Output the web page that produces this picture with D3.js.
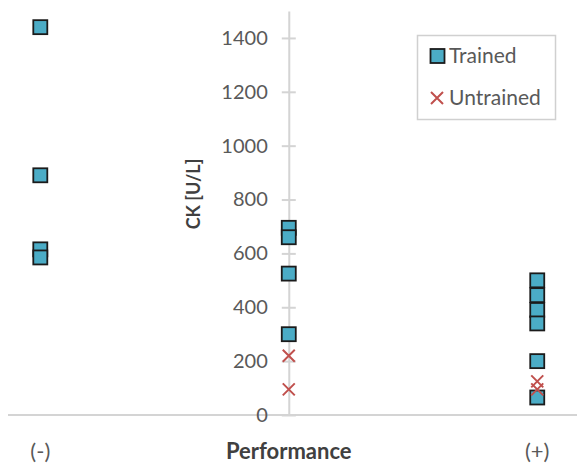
<!DOCTYPE html>
<html>
<head>
<meta charset="utf-8">
<script src="https://cdn.jsdelivr.net/npm/d3@7/dist/d3.min.js"></script>
<style>
  html, body { margin: 0; padding: 0; background: #fff; }
  svg { display: block; font-family: Lato, "Open Sans", sans-serif; }
</style>
</head>
<body>
<svg id="chart" width="577" height="464"></svg>
<script>
// Performance group: -1 = (-), 0 = middle, 1 = (+)
const trainedX = [-1, -1, -1, -1, 0, 0, 0, 0, 1, 1, 1, 1, 1, 1];
const trainedCK = [1440, 890, 615, 585, 695, 660, 525, 300, 500, 445, 390, 340, 200, 65];
const untrainedX = [0, 0, 1, 1];
const untrainedCK = [220, 95, 125, 95];
const yTicks = [0, 200, 400, 600, 800, 1000, 1200, 1400];
const xLabels = [{ v: -1, t: "(-)" }, { v: 0, t: "Performance" }, { v: 1, t: "(+)" }];
const seriesNames = ["Trained", "Untrained"];

const svg = d3.select("#chart");
const x = d3.scaleLinear().domain([-1.13, 1.16]).range([8, 577]);
const y = d3.scaleLinear().domain([0, 1500]).range([415, 11]);

const axisColor = "#d4d4d4";
const textColor = "#595959";

// horizontal axis line
svg.append("line")
  .attr("x1", x(-1.13)).attr("x2", x(1.16))
  .attr("y1", y(0)).attr("y2", y(0))
  .attr("stroke", axisColor).attr("stroke-width", 2);

// vertical axis crossing at x = 0
const yAxis = d3.axisLeft(y).tickValues(yTicks).tickFormat(d3.format("d"))
  .tickSize(0).tickPadding(21);
const yg = svg.append("g").attr("transform", `translate(${x(0)},0)`).call(yAxis);
yg.select(".domain").attr("stroke", axisColor).attr("stroke-width", 2);
yg.selectAll("text")
  .attr("fill", textColor)
  .style("font-size", "20px")
  .style("font-family", "Lato, sans-serif");
// cross-style tick marks
yg.selectAll(".tick").append("line")
  .attr("x1", -7).attr("x2", 7)
  .attr("stroke", axisColor).attr("stroke-width", 2);

// y axis title
svg.append("text")
  .attr("transform", `translate(200,${194}) rotate(-90)`)
  .attr("text-anchor", "middle")
  .attr("fill", "#404040")
  .style("font-size", "18px")
  .style("font-weight", "bold")
  .text("CK [U/L]");

// category labels under the axis
svg.selectAll(".xlab").data(xLabels).enter().append("text")
  .attr("class", "xlab")
  .attr("x", d => x(d.v))
  .attr("y", 459)
  .attr("text-anchor", "middle")
  .attr("fill", d => d.v === 0 ? "#404040" : textColor)
  .style("font-size", d => d.v === 0 ? "22px" : "22px")
  .style("font-weight", d => d.v === 0 ? "bold" : "normal")
  .text(d => d.t);

const sq = 14;
const squareColor = "#4bacc6";
const crossColor = "#c0504d";

function drawSquare(g, cx, cy) {
  g.append("rect")
    .attr("x", cx - sq / 2).attr("y", cy - sq / 2)
    .attr("width", sq).attr("height", sq)
    .attr("fill", squareColor)
    .attr("stroke", "#1b1b1b").attr("stroke-width", 1.8);
}
function drawCross(g, cx, cy) {
  const h = 6;
  g.append("path")
    .attr("d", `M${cx - h},${cy - h}L${cx + h},${cy + h}M${cx - h},${cy + h}L${cx + h},${cy - h}`)
    .attr("stroke", crossColor).attr("stroke-width", 2).attr("fill", "none");
}

const marks = svg.append("g");
trainedCK.forEach((v, i) => drawSquare(marks, x(trainedX[i]), y(v)));
untrainedCK.forEach((v, i) => drawCross(marks, x(untrainedX[i]), y(v)));

// legend
const lg = svg.append("g");
lg.append("rect")
  .attr("x", 417.5).attr("y", 35.5).attr("width", 138).attr("height", 84)
  .attr("fill", "#fff").attr("stroke", "#d0d0d0").attr("stroke-width", 1.5);
drawSquare(lg, 437.5, 56);
drawCross(lg, 437, 98);
lg.selectAll(".lt").data(seriesNames).enter().append("text")
  .attr("x", 449)
  .attr("y", (d, i) => i === 0 ? 63 : 105)
  .attr("fill", textColor)
  .style("font-size", "21px")
  .text(d => d);
</script>
</body>
</html>
